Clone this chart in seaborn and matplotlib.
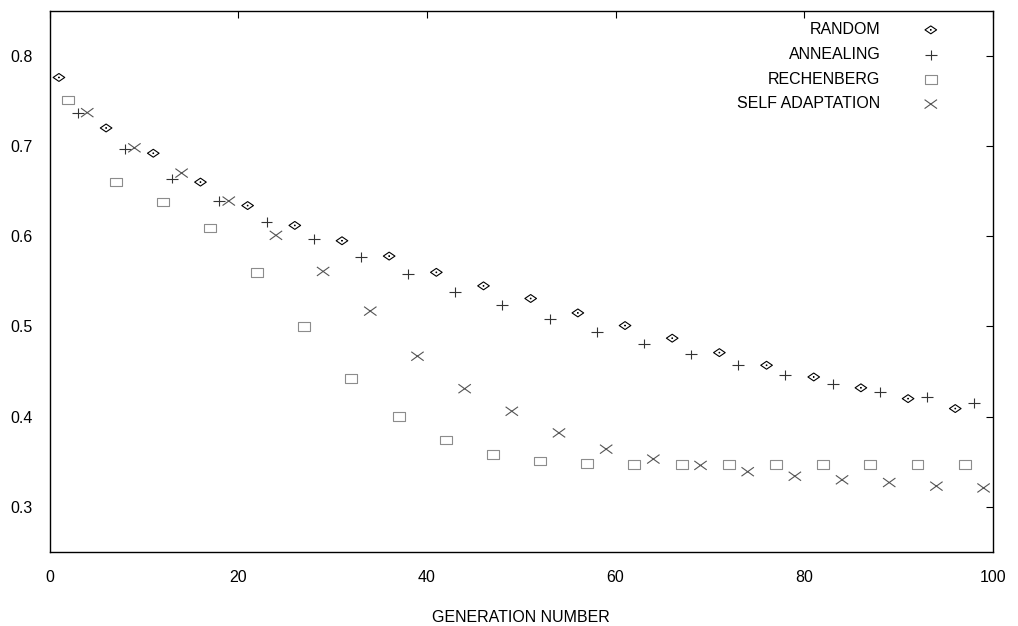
import numpy as np
import matplotlib
matplotlib.use("Agg")
import matplotlib.pyplot as plt
from matplotlib.path import Path
import seaborn as sns

# ---------------- data ----------------
random_x = [1, 6, 11, 16, 21, 26, 31, 36, 41, 46, 51, 56, 61, 66, 71, 76, 81, 86, 91, 96]
random_y = [0.776, 0.720, 0.692, 0.660, 0.634, 0.612, 0.595, 0.578, 0.560, 0.545,
            0.531, 0.515, 0.501, 0.487, 0.471, 0.457, 0.444, 0.432, 0.420, 0.409]

anneal_x = [3, 8, 13, 18, 23, 28, 33, 38, 43, 48, 53, 58, 63, 68, 73, 78, 83, 88, 93, 98]
anneal_y = [0.737, 0.697, 0.664, 0.639, 0.616, 0.597, 0.577, 0.558, 0.538, 0.524,
            0.508, 0.494, 0.481, 0.469, 0.457, 0.446, 0.436, 0.427, 0.422, 0.415]

rech_x = [2, 7, 12, 17, 22, 27, 32, 37, 42, 47, 52, 57, 62, 67, 72, 77, 82, 87, 92, 97]
rech_y = [0.751, 0.660, 0.638, 0.609, 0.560, 0.500, 0.442, 0.400, 0.374, 0.358,
          0.351, 0.348, 0.347, 0.347, 0.347, 0.347, 0.347, 0.347, 0.347, 0.347]

self_x = [4, 9, 14, 19, 24, 29, 34, 39, 44, 49, 54, 59, 64, 69, 74, 79, 84, 89, 94, 99]
self_y = [0.737, 0.698, 0.670, 0.639, 0.601, 0.561, 0.517, 0.467, 0.431, 0.406,
          0.382, 0.364, 0.353, 0.346, 0.339, 0.334, 0.330, 0.327, 0.323, 0.321]

labels = ["RANDOM", "ANNEALING", "RECHENBERG", "SELF ADAPTATION"]
x_ticks = [0, 20, 40, 60, 80, 100]
y_ticks = [0.3, 0.4, 0.5, 0.6, 0.7, 0.8]
x_label = "GENERATION NUMBER"

# ---------------- style ----------------
sns.set_style("white")
plt.rcParams["font.family"] = ["Liberation Sans", "DejaVu Sans"]
plt.rcParams["font.size"] = 11.5
plt.rcParams["text.color"] = "black"
plt.rcParams["axes.labelcolor"] = "black"
plt.rcParams["xtick.color"] = "black"
plt.rcParams["ytick.color"] = "black"

# custom gnuplot-like markers
M, L, C = Path.MOVETO, Path.LINETO, Path.CLOSEPOLY
d = 0.05
diamond = Path([(-1, 0), (0, 0.68), (1, 0), (0, -0.68), (-1, 0),
                (-d, -d), (d, -d), (d, d), (-d, d), (-d, -d)],
               [M, L, L, L, C, M, L, L, L, C])
square = Path([(-1, -0.72), (1, -0.72), (1, 0.72), (-1, 0.72), (-1, -0.72)],
              [M, L, L, L, C])
plus = Path([(-1, 0), (1, 0), (0, -0.82), (0, 0.82)], [M, L, M, L])
cross = Path([(-1, -0.72), (1, 0.72), (-1, 0.72), (1, -0.72)], [M, L, M, L])

fig = plt.figure(figsize=(10.18, 6.26), dpi=100)
ax = fig.add_axes([49.5 / 1018, 1 - 552 / 626, (993 - 49.5) / 1018, (552 - 10.7) / 626])

series = [
    (random_x, random_y, diamond, 70, "#000000"),
    (anneal_x, anneal_y, plus, 74, "#333333"),
    (rech_x, rech_y, square, 74, "#8c8c8c"),
    (self_x, self_y, cross, 80, "#555555"),
]
for (xs, ys, mk, s, col), lab in zip(series, labels):
    sns.scatterplot(x=xs, y=ys, marker=mk, s=s, facecolor="none",
                    edgecolor=col, linewidth=0.8, label=lab, ax=ax)

ax.set_xlim(0, 100)
ax.set_ylim(0.25, 0.85)
ax.set_xticks(x_ticks)
ax.set_xticklabels([str(v) for v in x_ticks])
ax.set_yticks(y_ticks)
ax.set_yticklabels([f"{v:.1f}" for v in y_ticks])
ax.tick_params(direction="in", length=5, width=0.8, color="black",
               top=True, right=True, labelsize=11.5, labelcolor="black")
ax.tick_params(axis="x", pad=13)
ax.tick_params(axis="y", pad=12)
for sp in ax.spines.values():
    sp.set_visible(True)
    sp.set_color("black")
    sp.set_linewidth(1.0)

ax.set_xlabel(x_label, fontsize=11.5, labelpad=18, color="black")
ax.set_ylabel("")

leg = ax.legend(loc="upper right", bbox_to_anchor=(0.951, 0.979),
                frameon=False, markerfirst=False, borderpad=0,
                borderaxespad=0, handlelength=2.0, handletextpad=2.15,
                labelspacing=0.61, fontsize=11.5, scatterpoints=1)
for t in leg.get_texts():
    t.set_color("black")

fig.savefig("out.png", dpi=100)
